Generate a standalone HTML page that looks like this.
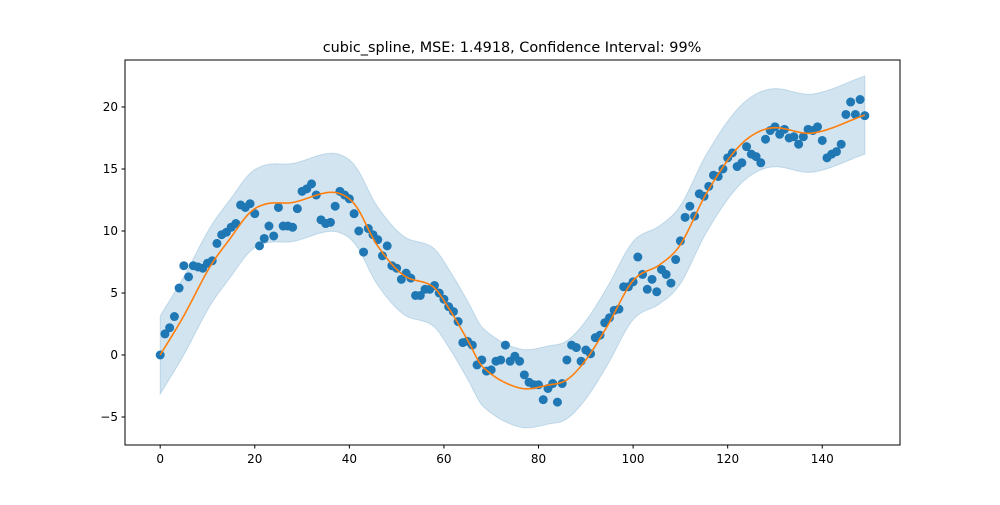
<!DOCTYPE html>
<html><head><meta charset="utf-8"><style>
body{margin:0;background:#fff;font-family:"Liberation Sans","DejaVu Sans",sans-serif}
svg text{font-family:"DejaVu Sans","Liberation Sans",sans-serif;font-size:12px;fill:#000}
</style></head><body>
<svg id="chart" width="1000" height="500" viewBox="0 0 1000 500" xmlns="http://www.w3.org/2000/svg">
<rect width="1000" height="500" fill="#fff"/>
<text x="512" y="52" text-anchor="middle" style="font-size:14.4px">cubic_spline, MSE: 1.4918, Confidence Interval: 99%</text>
<g id="plot"></g>
<rect x="125" y="60" width="775" height="385" fill="none" stroke="#000" stroke-width="1"/>
</svg>
<script>
const pointsY=[0,1.7,2.2,3.1,5.4,7.2,6.3,7.2,7.1,7.0,7.4,7.6,9.0,9.7,9.9,10.3,10.6,12.1,11.9,12.2,11.4,8.8,9.4,10.4,9.6,11.9,10.4,10.4,10.3,11.8,13.2,13.4,13.8,12.9,10.9,10.6,10.7,12.0,13.2,12.9,12.6,11.4,10.0,8.3,10.2,9.7,9.3,8.0,8.8,7.2,7.0,6.1,6.6,6.2,4.8,4.8,5.3,5.3,5.6,5.0,4.5,3.9,3.5,2.7,1.0,1.1,0.8,-0.8,-0.4,-1.3,-1.2,-0.5,-0.4,0.8,-0.5,-0.1,-0.5,-1.6,-2.2,-2.4,-2.4,-3.6,-2.7,-2.3,-3.8,-2.3,-0.4,0.8,0.6,-0.5,0.4,0.1,1.4,1.6,2.6,3.0,3.6,3.7,5.5,5.5,5.9,7.9,6.5,5.3,6.1,5.1,6.9,6.5,5.8,7.7,9.2,11.1,12.0,11.2,13.0,12.8,13.6,14.5,14.4,15.0,15.9,16.3,15.2,15.5,16.8,16.2,16.0,15.5,17.4,18.1,18.4,17.8,18.2,17.5,17.6,17.0,17.6,18.2,18.1,18.4,17.3,15.9,16.2,16.4,17.0,19.4,20.4,19.4,20.6,19.3];
const curveX=[0,4.9,10.5,14.8,19,22.6,28,35.3,38.7,41.6,45.8,51.4,57.7,61.3,65,68.3,76,82.4,86,90,94.5,100,105.7,110,115.6,122.6,129,138,149];
const curveY=[0,3.1,7.1,9.4,11.5,12.2,12.3,13.1,12.9,11.9,8.9,6.45,5.5,3.6,1.2,-1.0,-2.66,-2.4,-2.0,-0.4,2.3,6.0,7.3,8.9,13.1,16.9,18.3,17.9,19.35];
const bandHalf=3.15;
const xTicks=[0,20,40,60,80,100,120,140];
const yTicks=[-5,0,5,10,15,20];

const NS="http://www.w3.org/2000/svg";
const sx=v=>160.2+v*4.729;
const sy=v=>355-v*12.4;
const g=document.getElementById('plot');
function mk(t,a){const e=document.createElementNS(NS,t);for(const k in a)e.setAttribute(k,a[k]);return e;}
function interp(x){
  let i=0;while(i<curveX.length-2&&x>curveX[i+1])i++;
  const x0=curveX[Math.max(i-1,0)],x1=curveX[i],x2=curveX[i+1],x3=curveX[Math.min(i+2,curveX.length-1)];
  const y0=curveY[Math.max(i-1,0)],y1=curveY[i],y2=curveY[i+1],y3=curveY[Math.min(i+2,curveY.length-1)];
  const h=x2-x1,t=(x-x1)/h;
  const m1=(y2-y0)/((x2-x0)||1)*h,m2=(y3-y1)/((x3-x1)||1)*h;
  const t2=t*t,t3=t2*t;
  return (2*t3-3*t2+1)*y1+(t3-2*t2+t)*m1+(-2*t3+3*t2)*y2+(t3-t2)*m2;
}
const xs=[];for(let x=0;x<=149.001;x+=0.5)xs.push(x);
let up=xs.map(x=>sx(x)+','+sy(interp(x)+bandHalf));
let dn=xs.slice().reverse().map(x=>sx(x)+','+sy(interp(x)-bandHalf));
const band=mk('polygon',{points:up.concat(dn).join(' '),fill:'#1f77b4','fill-opacity':0.2,stroke:'#1f77b4','stroke-opacity':0.2});


g.appendChild(band);
pointsY.forEach((v,i)=>{
  const c=mk('circle',{cx:sx(i),cy:sy(v),r:4.5,fill:'#1f77b4'});
  
  
  g.appendChild(c);
});
const line=mk('polyline',{points:xs.map(x=>sx(x)+','+sy(interp(x))).join(' '),fill:'none',stroke:'#ff7f0e','stroke-width':1.6});


g.appendChild(line);
xTicks.forEach(t=>{
  const l=mk('line',{x1:sx(t),x2:sx(t),y1:445,y2:448.5,stroke:'#000'});
  
  
  g.appendChild(l);
  const tx=mk('text',{x:sx(t),y:463,'text-anchor':'middle'});tx.textContent=t;
  
  
  g.appendChild(tx);
});
yTicks.forEach(t=>{
  const l=mk('line',{x1:121.5,x2:125,y1:sy(t),y2:sy(t),stroke:'#000'});
  
  
  g.appendChild(l);
  const tx=mk('text',{x:118,y:sy(t)+4,'text-anchor':'end'});tx.textContent=t<0?'\u2212'+(-t):t;
  
  
  g.appendChild(tx);
});
</script>
</body></html>
